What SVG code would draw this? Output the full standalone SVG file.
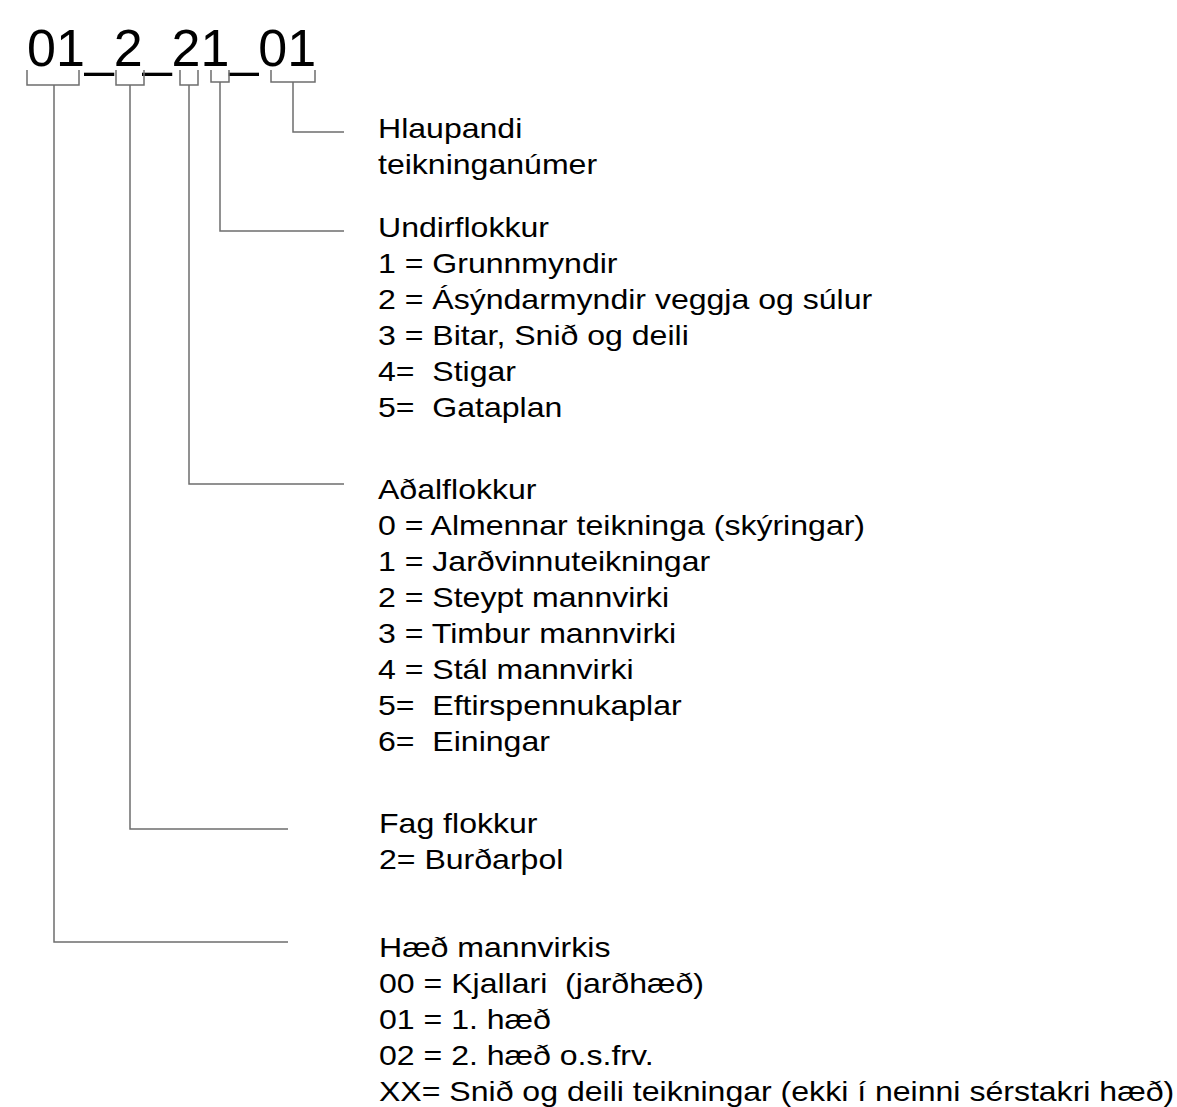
<svg xmlns="http://www.w3.org/2000/svg" width="1177" height="1107" viewBox="0 0 1177 1107">
<style>
.t{font-family:"Liberation Sans",Arial,sans-serif;font-size:28px;fill:#000;white-space:pre}
.title{font-family:"Liberation Sans",Arial,sans-serif;font-size:52px;fill:#000}
.c{fill:none;stroke:#6e6e6e;stroke-width:1.5}
</style>
<rect width="1177" height="1107" fill="#fff"/>
<g id="code">
<text class="title" x="27" y="66">01_2_21_01</text>
</g>
<g id="connectors">
<path class="c" d="M27,70 V85 H79 V70"/>
<path class="c" d="M116,70 V85 H144 V70"/>
<path class="c" d="M180,70 V85 H198 V70"/>
<path class="c" d="M211,70 V82 H229 V70"/>
<path class="c" d="M271,70 V82 H315 V70"/>
<path class="c" d="M293,82 V132 H344"/>
<path class="c" d="M220,82 V231 H344"/>
<path class="c" d="M189,85 V484 H344"/>
<path class="c" d="M130,85 V829 H288"/>
<path class="c" d="M54,85 V942 H288"/>
</g>
<g id="hlaupandi" transform="translate(378 0) scale(1.145 1)">
<text class="t" x="0" y="138">Hlaupandi</text>
<text class="t" x="0" y="174">teikninganúmer</text>
</g>
<g id="undirflokkur" transform="translate(378 0) scale(1.145 1)">
<text class="t" x="0" y="237">Undirflokkur</text>
<text class="t" x="0" y="273">1 = Grunnmyndir</text>
<text class="t" x="0" y="309">2 = Ásýndarmyndir veggja og súlur</text>
<text class="t" x="0" y="345">3 = Bitar, Snið og deili</text>
<text class="t" x="0" y="381">4=  Stigar</text>
<text class="t" x="0" y="417">5=  Gataplan</text>
</g>
<g id="adalflokkur" transform="translate(378 0) scale(1.145 1)">
<text class="t" x="0" y="499">Aðalflokkur</text>
<text class="t" x="0" y="535">0 = Almennar teikninga (skýringar)</text>
<text class="t" x="0" y="571">1 = Jarðvinnuteikningar</text>
<text class="t" x="0" y="607">2 = Steypt mannvirki</text>
<text class="t" x="0" y="643">3 = Timbur mannvirki</text>
<text class="t" x="0" y="679">4 = Stál mannvirki</text>
<text class="t" x="0" y="715">5=  Eftirspennukaplar</text>
<text class="t" x="0" y="751">6=  Einingar</text>
</g>
<g id="fagflokkur" transform="translate(379 0) scale(1.145 1)">
<text class="t" x="0" y="833">Fag flokkur</text>
<text class="t" x="0" y="869">2= Burðarþol</text>
</g>
<g id="haed" transform="translate(379 0) scale(1.145 1)">
<text class="t" x="0" y="957">Hæð mannvirkis</text>
<text class="t" x="0" y="993">00 = Kjallari  (jarðhæð)</text>
<text class="t" x="0" y="1029">01 = 1. hæð</text>
<text class="t" x="0" y="1065">02 = 2. hæð o.s.frv.</text>
<text class="t" x="0" y="1101">XX= Snið og deili teikningar (ekki í neinni sérstakri hæð)</text>
</g>
</svg>
